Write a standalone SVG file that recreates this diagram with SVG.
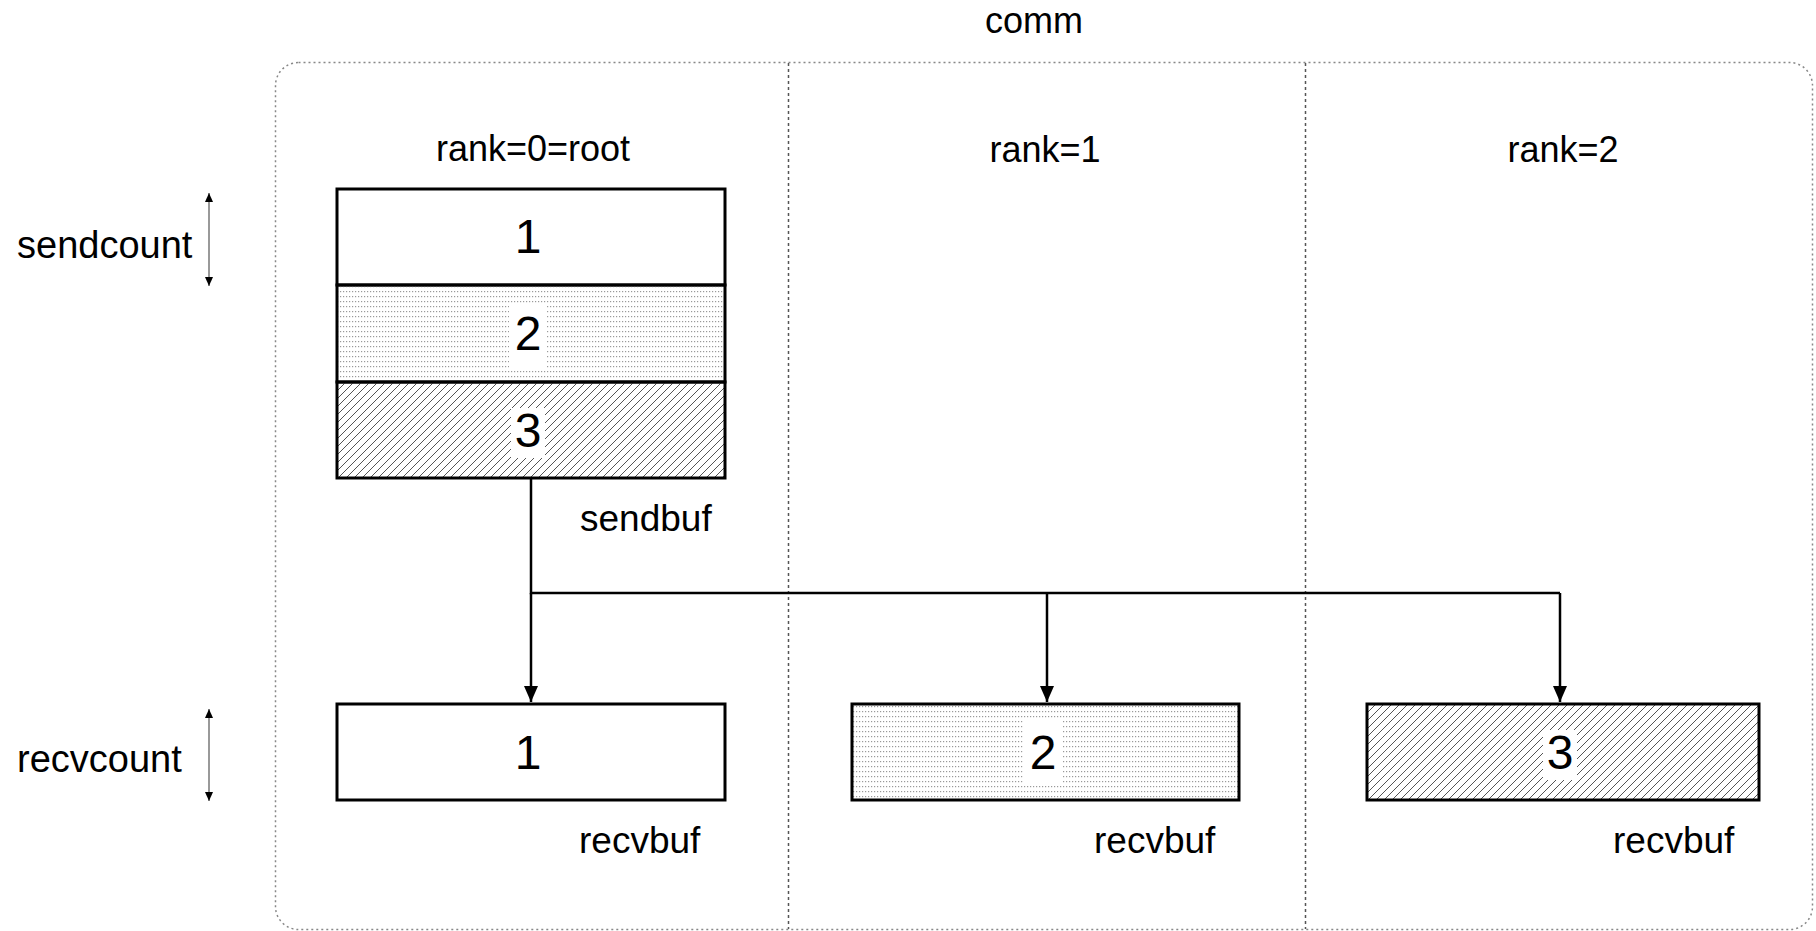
<svg xmlns="http://www.w3.org/2000/svg" width="1816" height="931" viewBox="0 0 1816 931">
<style>
text{font-family:"Liberation Sans",Arial,sans-serif;fill:#000}
.lbl{font-size:36px}
.big{font-size:38px}
.buf{font-size:37px}
.dig{font-size:48px;text-anchor:middle}
.mid{text-anchor:middle}
.box{stroke:#000;stroke-width:3}
.conn{stroke:#000;stroke-width:2.5;fill:none}
.dim{stroke:#777;stroke-width:1.5;fill:none}
.knock{fill:#fff}
</style>
<defs>
<pattern id="dots" width="3" height="5" patternUnits="userSpaceOnUse">
<rect x="1" y="1" width="1.2" height="1.2" fill="#999"/>
</pattern>
<pattern id="hatch" width="8" height="8" patternUnits="userSpaceOnUse">
<path d="M-2,2 L2,-2 M0,8 L8,0 M6,10 L10,6" stroke="#555" stroke-width="1"/>
</pattern>
<marker id="arr" markerWidth="16" markerHeight="14" refX="16" refY="7" orient="auto-start-reverse" markerUnits="userSpaceOnUse" viewBox="0 0 16 14">
<path d="M0,0 L16,7 L0,14 z" fill="#000"/>
</marker>
<marker id="sarr" markerWidth="9" markerHeight="8" refX="9" refY="4" orient="auto-start-reverse" markerUnits="userSpaceOnUse" viewBox="0 0 9 8">
<path d="M0,0 L9,4 L0,8 z" fill="#000"/>
</marker>
</defs>
<rect width="1816" height="931" fill="#fff"/>

<g id="comm">
<rect x="275.5" y="62.5" width="1537" height="867" rx="23" ry="23" fill="none" stroke="#888" stroke-width="1.5" stroke-dasharray="2 3"/>
<line x1="788.5" y1="63" x2="788.5" y2="929" stroke="#555" stroke-width="1.5" stroke-dasharray="3 3"/>
<line x1="1305.5" y1="63" x2="1305.5" y2="929" stroke="#555" stroke-width="1.5" stroke-dasharray="3 3"/>
<text class="lbl mid" x="1034" y="33">comm</text>
<text class="lbl mid" x="533" y="161">rank=0=root</text>
<text class="lbl mid" x="1045" y="162">rank=1</text>
<text class="lbl mid" x="1563" y="162">rank=2</text>
</g>

<g id="sendcount">
<text class="big" x="17" y="258">sendcount</text>
<line class="dim" x1="209" y1="193" x2="209" y2="286" marker-start="url(#sarr)" marker-end="url(#sarr)"/>
</g>
<g id="recvcount">
<text class="big" x="17" y="772">recvcount</text>
<line class="dim" x1="209" y1="709" x2="209" y2="801" marker-start="url(#sarr)" marker-end="url(#sarr)"/>
</g>

<g id="sendbuf">
<rect class="box" x="337" y="189" width="388" height="96" fill="#fff"/>
<rect class="box" x="337" y="285" width="388" height="97" fill="url(#dots)"/>
<rect class="box" x="337" y="382" width="388" height="96" fill="url(#hatch)"/>
<text class="dig" x="528" y="253">1</text>
<rect class="knock" x="509" y="306" width="38" height="64"/>
<text class="dig" x="528" y="350">2</text>
<rect class="knock" x="511" y="408" width="34" height="50"/>
<text class="dig" x="528" y="447">3</text>
<text class="buf" x="580" y="531">sendbuf</text>
</g>

<g id="recvbuf0">
<rect class="box" x="337" y="704" width="388" height="96" fill="#fff"/>
<text class="dig" x="528" y="769">1</text>
<text class="buf" x="579" y="853">recvbuf</text>
</g>
<g id="recvbuf1">
<rect class="box" x="852" y="704" width="387" height="96" fill="url(#dots)"/>
<rect class="knock" x="1024" y="718" width="39" height="65"/>
<text class="dig" x="1043" y="769">2</text>
<text class="buf" x="1094" y="853">recvbuf</text>
</g>
<g id="recvbuf2">
<rect class="box" x="1367" y="704" width="392" height="96" fill="url(#hatch)"/>
<rect class="knock" x="1543" y="730" width="34" height="50"/>
<text class="dig" x="1560" y="769">3</text>
<text class="buf" x="1613" y="853">recvbuf</text>
</g>

<g id="connectors">
<path class="conn" d="M531,479 V593 H1560"/>
<line class="conn" x1="531" y1="593" x2="531" y2="702" marker-end="url(#arr)"/>
<line class="conn" x1="1047" y1="593" x2="1047" y2="702" marker-end="url(#arr)"/>
<line class="conn" x1="1560" y1="593" x2="1560" y2="702" marker-end="url(#arr)"/>
</g>
</svg>
